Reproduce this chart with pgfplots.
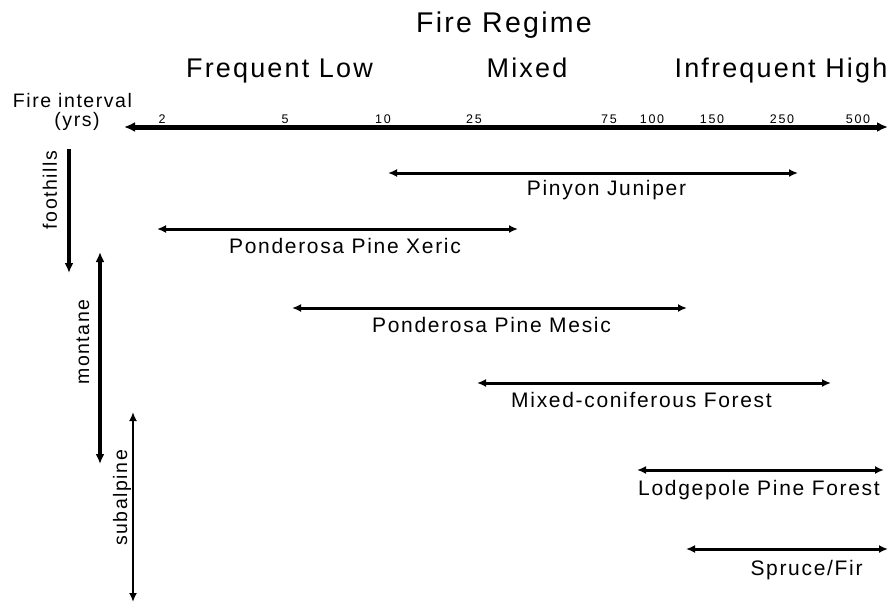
\documentclass[border=0pt]{standalone}
\usepackage{fontspec}
\setmainfont{Liberation Sans}[LetterSpace=8]
\newfontfamily\tickfont{Liberation Sans}[LetterSpace=14]
\usepackage{pgfplots}
\pgfplotsset{compat=1.18}
\usetikzlibrary{arrows.meta}
\begin{document}
\begin{tikzpicture}
\tikzset{
  hd/.style={{Latex[length=9bp,width=8bp]}-{Latex[length=9bp,width=8bp]}},
  lab/.style={anchor=base,inner sep=0pt,font=\fontsize{21bp}{22bp}\selectfont},
  big/.style={anchor=base,inner sep=0pt,font=\fontsize{27bp}{30bp}\selectfont},
  tk/.style={anchor=base,inner sep=0pt,font=\tickfont\fontsize{12.5bp}{13bp}\selectfont},
  rot/.style={anchor=center,inner sep=0pt,rotate=90,font=\fontsize{19.5bp}{22bp}\selectfont},
}
\begin{axis}[
  scale only axis, width=889bp, height=603bp,
  xmin=0, xmax=889, ymin=0, ymax=603, y dir=reverse,
  hide axis, clip=false,
]
\coordinate (BL) at (axis cs:0,603);
\coordinate (TR) at (axis cs:889,0);
% main fire-interval axis
\addplot[black, line width=5bp, {Latex[length=11bp,width=10bp]}-{Latex[length=11bp,width=10bp]}] coordinates {(124,127) (888,127)};
% vegetation ranges
\addplot[black, line width=3bp, hd] coordinates {(388,173) (798,173)};
\addplot[black, line width=3bp, hd] coordinates {(157,229) (518,229)};
\addplot[black, line width=3bp, hd] coordinates {(292,308) (687,308)};
\addplot[black, line width=3bp, hd] coordinates {(477,383) (831,383)};
\addplot[black, line width=3bp, hd] coordinates {(637,470) (884,470)};
\addplot[black, line width=3bp, hd] coordinates {(686,549) (888,549)};
% elevation zones
\addplot[black, line width=4bp, -{Latex[length=10bp,width=9bp]}] coordinates {(69,149) (69,273)};
\addplot[black, line width=4bp, {Latex[length=10bp,width=9bp]}-{Latex[length=10bp,width=9bp]}] coordinates {(100,252) (100,464)};
\addplot[black, line width=2bp, {Latex[length=9bp,width=8bp]}-{Latex[length=9bp,width=8bp]}] coordinates {(133,412) (133,602)};
% titles
\node[big,font=\fontsize{28.5bp}{30bp}\selectfont] at (axis cs:504,33) {Fire Regime};
\node[big] at (axis cs:279.5,78) {Frequent Low};
\node[big] at (axis cs:527,78) {Mixed};
\node[big] at (axis cs:781,78) {Infrequent High};
\node[lab,font=\fontsize{19.5bp}{22bp}\selectfont] at (axis cs:72.5,107) {Fire interval};
\node[lab,font=\fontsize{19.5bp}{22bp}\selectfont] at (axis cs:77,126) {(yrs)};
% tick labels
\node[tk] at (axis cs:162,123) {2};
\node[tk] at (axis cs:285,123) {5};
\node[tk] at (axis cs:383,123) {10};
\node[tk] at (axis cs:474,123) {25};
\node[tk] at (axis cs:609,123) {75};
\node[tk] at (axis cs:652,123) {100};
\node[tk] at (axis cs:712,123) {150};
\node[tk] at (axis cs:782,123) {250};
\node[tk] at (axis cs:858,123) {500};
% range labels
\node[lab] at (axis cs:606.5,195) {Pinyon Juniper};
\node[lab] at (axis cs:345,253) {Ponderosa Pine Xeric};
\node[lab] at (axis cs:491.5,332) {Ponderosa Pine Mesic};
\node[lab] at (axis cs:641.5,407) {Mixed-coniferous Forest};
\node[lab] at (axis cs:759,495) {Lodgepole Pine Forest};
\node[lab] at (axis cs:806.5,575) {Spruce/Fir};
% zone labels
\node[rot] at (axis cs:50,190) {foothills};
\node[rot] at (axis cs:83,342) {montane};
\node[rot] at (axis cs:122,498) {subalpine};
\end{axis}
\pgfresetboundingbox
\path[use as bounding box] (BL) rectangle (TR);
\end{tikzpicture}
\end{document}
